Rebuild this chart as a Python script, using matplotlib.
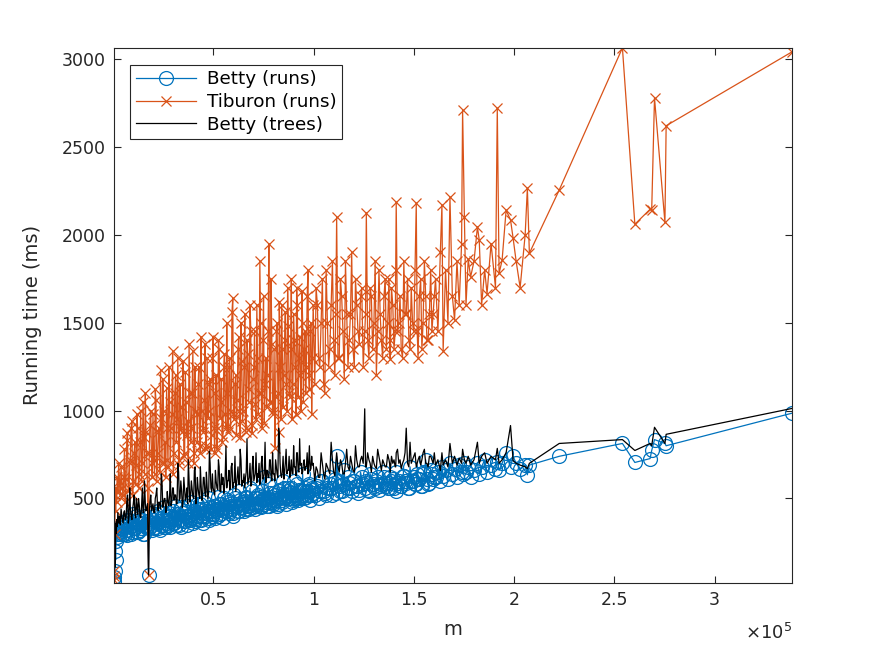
import numpy as np
import matplotlib
matplotlib.use("Agg")
import matplotlib.pyplot as plt
from matplotlib.ticker import FuncFormatter

# problem size m, in thousands, first pass of points
m_k_a = [
    0.35, 0.5, 0.7, 0.9, 1.1, 1.3, 1.5, 1.8, 2.1, 2.4, 2.8, 3.2, 3.6, 4.0, 4.5,
    5.0, 5.7, 6.5, 7.2, 8.0, 8.6, 9.4, 10.1, 10.9, 11.6,
    12.3, 13.1, 13.8, 14.6, 15.3, 16.1, 16.7, 17.7, 18.4, 19.2,
    19.9, 20.7, 21.4, 22.2, 22.9, 23.7, 24.4, 25.2, 25.9, 26.7,
    27.4, 28.2, 28.9, 29.7, 30.4, 31.2, 31.9, 32.7, 33.4, 34.2,
    34.9, 35.7, 36.4, 37.2, 37.9, 38.7, 39.4, 40.2, 40.9, 41.7,
    42.4, 43.2, 43.9, 44.7, 45.4, 46.2, 46.9, 47.7, 48.4, 49.2,
    49.9, 50.7, 51.4, 52.2, 52.9, 53.7, 54.4, 55.2, 55.9, 56.7,
    57.4, 58.2, 58.9, 59.7, 60.4, 61.2, 61.9, 62.7, 63.4, 64.2,
    64.9, 65.7, 66.4, 67.2, 67.9, 68.7, 69.4, 70.2, 70.9, 71.7,
    72.4, 73.2, 73.9, 74.7, 75.4, 76.2, 76.9, 77.7, 78.4, 79.2,
    79.9, 80.7, 81.4, 82.2, 82.9, 83.7, 84.4, 85.2, 85.9, 86.7,
    87.4, 88.2, 88.9, 89.7, 90.4, 91.2, 91.9, 92.7, 93.4, 94.2,
    94.9, 95.7, 96.4, 97.2, 97.9, 98.7, 99.4,
    100.6, 101.9, 103.1, 104.4, 105.6, 106.9, 108.1, 109.4, 110.6, 111.5,
    112.8, 114.0, 115.3, 116.5, 117.8, 119.0, 120.3, 121.5, 122.8, 124.0,
    125.5, 126.3, 127.6, 128.8, 130.1, 131.3, 132.6, 133.8, 135.1, 136.3,
    137.6, 138.2, 139.5, 140.7, 141.2, 142.5, 143.7, 145.0, 146.2, 147.5,
    148.7, 150.0, 151.2, 152.1, 153.4, 154.6, 155.9, 157.1, 158.4, 159.6,
    160.8, 162.0, 163.2, 164.0, 164.6, 165.8, 167.0, 168.0, 169.2, 170.3,
    171.5, 172.6, 173.8, 174.3, 175.2, 176.0, 177.1, 178.3, 180.0, 181.7,
    182.6, 183.8, 185.3, 186.5, 188.5, 190.7, 191.6, 192.5, 194.0, 196.0,
    198.2, 199.5, 201.0, 203.0, 205.5, 206.6, 207.6,
    222.5, 254.0, 260.2, 267.8, 268.6, 270.0, 275.2, 275.8, 338.5,
]

betty_runs_a = [
    22, 30, 55, 90, 200, 150, 260, 300, 280, 320, 310, 340, 300, 330, 350,
    300, 360, 320, 290, 380, 340, 310, 350, 330, 400,
    310, 360, 330, 380, 300, 350, 340, 65, 360, 320,
    380, 340, 410, 330, 370, 350, 420, 340, 380, 360,
    350, 400, 370, 430, 360, 390, 410, 350, 440, 380,
    420, 370, 400, 460, 380, 410, 390, 430, 370, 470,
    400, 440, 380, 420, 480, 400, 430, 390, 450, 420,
    410, 460, 430, 400, 470, 440, 420, 500, 430, 450,
    480, 430, 460, 420, 520, 450, 470, 430, 490, 450,
    470, 440, 510, 460, 480, 450, 540, 470, 440, 500,
    470, 510, 460, 490, 620, 480, 500, 460, 530, 490,
    480, 520, 500, 470, 540, 510, 490, 560, 500, 520,
    560, 500, 530, 490, 600, 520, 510, 550, 500, 540,
    520, 560, 510, 540, 580, 520, 550,
    520, 570, 540, 600, 530, 560, 580, 520, 610, 740,
    570, 540, 660, 560, 590, 540, 600, 570, 550, 620,
    560, 590, 540, 610, 570, 600, 550, 580, 620, 570,
    590, 560, 610, 580, 540, 600, 570, 630, 590, 560,
    600, 620, 580, 610, 570, 640, 720, 580, 660, 610,
    620, 650, 600, 680, 630, 660, 610, 700, 640, 670,
    620, 690, 650, 640, 700, 650, 680, 620, 660, 700,
    640, 680, 720, 650, 690, 670, 710, 660, 700, 760,
    680, 740, 700, 670, 690, 635, 690,
    740, 813, 705, 727, 773, 835, 813, 800, 985,
]

tiburon_runs_a = [
    35, 60, 90, 300, 520, 430, 560, 480, 620, 540, 700, 600, 520, 680, 560,
    520, 780, 610, 870, 560, 720, 940, 600, 820, 690,
    900, 640, 1000, 700, 850, 1100, 760, 65, 920, 700,
    980, 640, 1060, 760, 900, 1230, 700, 1000, 820, 1130,
    680, 1050, 900, 1340, 760, 1200, 950, 690, 1150, 880,
    1280, 760, 1050, 940, 1380, 820, 1100, 700, 1250, 980,
    1150, 800, 1420, 900, 1060, 780, 1300, 1000, 1180, 860,
    1420, 760, 1200, 900, 1350, 1050, 820, 1250, 980, 1500,
    880, 1300, 1000, 1640, 950, 1200, 1060, 1420, 850, 1280,
    1000, 1550, 900, 1320, 1120, 1450, 870, 1250, 1040, 1600,
    980, 1850, 1100, 1400, 930, 1300, 1200, 1950, 1050, 1380,
    1000, 790, 1450, 1100, 1620, 950, 1350, 1200, 1560, 1000,
    1480, 1080, 1750, 1150, 1400, 980, 1600, 1300, 1200, 1680,
    1050, 1450, 1250, 1800, 1120, 1500, 1300,
    1150, 1600, 1250, 1750, 1100, 1500, 1350, 1850, 1200, 2100,
    1300, 1650, 1180, 1550, 1400, 1900, 1250, 1600, 1380, 1700,
    1450, 2125, 1300, 1650, 1500, 1200, 1800, 1400, 1650, 1350,
    1750, 1295, 1600, 1450, 2185, 1500, 1350, 1850, 1550, 1400,
    1700, 1450, 2180, 1300, 1750, 1500, 1650, 1400, 1800, 1550,
    1750, 1450, 1900, 2170, 1340, 1800, 1500, 2215, 1650, 1515,
    1850, 1600, 1950, 2710, 2100, 1600, 1860, 1760, 1850, 2045,
    1970, 1600, 1800, 1665, 1950, 1700, 2720, 1780, 1855, 2140,
    2085, 1980, 1850, 1700, 2000, 2265, 1895,
    2255, 3063, 2060, 2145, 2140, 2778, 2070, 2620, 3040,
]

betty_trees_a = [
    28, 45, 70, 320, 110, 360, 300, 380, 340, 420, 360, 400, 350, 440, 390,
    360, 430, 390, 520, 400, 450, 380, 470, 420, 500,
    410, 460, 390, 560, 420, 470, 440, 65, 480, 430,
    470, 420, 520, 450, 480, 440, 600, 470, 500, 450,
    480, 520, 460, 560, 490, 520, 470, 650, 500, 540,
    480, 550, 510, 470, 600, 520, 560, 500, 680, 520,
    560, 500, 580, 530, 620, 510, 570, 540, 700, 540,
    560, 520, 600, 550, 680, 540, 580, 530, 620, 560,
    600, 550, 680, 560, 590, 540, 620, 580, 780, 570,
    590, 560, 650, 580, 620, 570, 680, 600, 640, 590,
    620, 580, 700, 610, 640, 590, 660, 620, 720, 600,
    640, 600, 680, 620, 870, 630, 650, 610, 700, 640,
    660, 620, 720, 640, 680, 630, 760, 650, 690, 640,
    700, 660, 680, 640, 800, 670, 690,
    600, 660, 620, 700, 610, 680, 640, 720, 630, 760,
    650, 700, 640, 780, 660, 700, 650, 720, 680, 740,
    1010, 680, 720, 650, 700, 670, 740, 660, 700, 680,
    720, 650, 700, 680, 760, 700, 670, 720, 900, 680,
    700, 740, 680, 720, 690, 760, 700, 680, 740, 700,
    690, 720, 660, 760, 690, 720, 680, 813, 700, 740,
    690, 730, 700, 780, 720, 700, 740, 690, 720, 820,
    700, 740, 760, 700, 740, 720, 785, 700, 720, 760,
    915, 715, 700, 690, 680, 670, 700,
    813, 835, 773, 813, 800, 905, 813, 865, 1012,
]

# second pass of points, lying between the first ones in the dense part
m_k_b = [
    5.35, 6.1, 6.85, 7.6, 8.3, 9.0, 9.75, 10.5, 11.25, 11.95,
    12.7, 13.45, 14.2, 14.95, 15.7, 16.4, 17.2, 18.05, 18.8, 19.55,
    20.3, 21.05, 21.8, 22.55, 23.3, 24.05, 24.8, 25.55, 26.3, 27.05,
    27.8, 28.55, 29.3, 30.05, 30.8, 31.55, 32.3, 33.05, 33.8, 34.55,
    35.3, 36.05, 36.8, 37.55, 38.3, 39.05, 39.8, 40.55, 41.3, 42.05,
    42.8, 43.55, 44.3, 45.05, 45.8, 46.55, 47.3, 48.05, 48.8, 49.55,
    50.3, 51.05, 51.8, 52.55, 53.3, 54.05, 54.8, 55.55, 56.3, 57.05,
    57.8, 58.55, 59.3, 60.05, 60.8, 61.55, 62.3, 63.05, 63.8, 64.55,
    65.3, 66.05, 66.8, 67.55, 68.3, 69.05, 69.8, 70.55, 71.3, 72.05,
    72.8, 73.55, 74.3, 75.05, 75.8, 76.55, 77.3, 78.05, 78.8, 79.55,
    80.3, 81.05, 81.8, 82.55, 83.3, 84.05, 84.8, 85.55, 86.3, 87.05,
    87.8, 88.55, 89.3, 90.05, 90.8, 91.55, 92.3, 93.05, 93.8, 94.55,
    95.3, 96.05, 96.8, 97.55, 98.3, 99.05, 99.8,
    101.25, 102.5, 103.75, 105.0, 106.25, 107.5, 108.75, 110.0, 111.05, 112.15,
    113.4, 114.65, 115.9, 117.15, 118.4, 119.65, 120.9, 122.15, 123.4, 124.75,
    125.9, 126.95, 128.2, 129.45, 130.7, 131.95, 133.2, 134.45, 135.7, 136.95,
    137.9, 138.85, 140.1, 140.95, 141.85, 143.1, 144.35, 145.6, 146.85, 148.1,
    149.35, 150.6, 151.65, 152.75, 154.0, 155.25, 156.5, 157.75, 159.0, 160.2,
]

betty_runs_b = [
    340, 300, 380, 320, 360, 300, 410, 330, 370, 310,
    390, 320, 360, 300, 400, 340, 370, 330, 420, 350,
    330, 400, 360, 430, 320, 390, 350, 450, 340, 380,
    420, 340, 390, 360, 460, 350, 410, 380, 340, 450,
    370, 430, 350, 400, 380, 480, 360, 420, 390, 440,
    380, 470, 400, 360, 440, 420, 500, 380, 430, 400,
    460, 390, 440, 510, 410, 470, 390, 450, 430, 490,
    420, 470, 440, 400, 500, 460, 430, 540, 450, 480,
    430, 500, 460, 440, 560, 470, 450, 500, 460, 520,
    480, 450, 540, 470, 500, 460, 580, 480, 510, 470,
    530, 490, 460, 550, 500, 480, 600, 510, 470, 540,
    500, 560, 480, 520, 500, 580, 490, 540, 510, 640,
    500, 540, 520, 570, 490, 560, 530,
    560, 500, 600, 540, 520, 620, 560, 590, 530, 600,
    540, 580, 520, 620, 560, 600, 570, 530, 650, 580,
    600, 550, 640, 580, 560, 620, 570, 650, 590, 560,
    620, 600, 560, 650, 590, 570, 630, 600, 560, 680,
    600, 580, 640, 610, 570, 650, 610, 590, 640, 620,
]

tiburon_runs_b = [
    620, 480, 830, 540, 700, 900, 520, 760, 580, 980,
    560, 820, 600, 1050, 640, 880, 560, 760, 1000, 620,
    720, 1120, 600, 880, 650, 960, 1180, 700, 620, 900,
    1250, 700, 980, 640, 1100, 820, 1300, 720, 900, 1020,
    740, 1220, 860, 700, 1100, 900, 1340, 760, 1000, 820,
    1250, 760, 1000, 880, 1380, 800, 960, 1150, 780, 1300,
    900, 1100, 780, 1400, 960, 1180, 850, 1320, 900, 1100,
    1250, 900, 1560, 980, 1150, 860, 1350, 1000, 1500, 940,
    1250, 880, 1400, 1050, 1600, 920, 1180, 1450, 950, 1300,
    1100, 1500, 900, 1650, 1150, 1020, 1450, 1050, 1750, 980,
    1350, 1080, 1500, 880, 1250, 1600, 1020, 1400, 1150, 1700,
    1100, 1350, 950, 1550, 1250, 1700, 1080, 1420, 1000, 1500,
    1350, 1100, 1650, 1200, 1450, 980, 1600,
    1700, 1300, 1500, 1150, 1800, 1250, 1600, 1400, 1550, 1300,
    1750, 1450, 1850, 1250, 1550, 1350, 1750, 1450, 1650, 1250,
    1550, 1400, 1700, 1350, 1850, 1450, 1550, 1300, 1750, 1500,
    1400, 1700, 1350, 1800, 1450, 1650, 1300, 1550, 1750, 1350,
    1500, 1800, 1450, 1650, 1350, 1850, 1400, 1550, 1450, 1650,
]

betty_trees_b = [
    420, 380, 480, 360, 560, 400, 440, 520, 390, 460,
    500, 400, 450, 420, 600, 430, 470, 410, 520, 450,
    420, 500, 560, 430, 470, 640, 450, 500, 420, 540,
    460, 640, 480, 560, 520, 470, 700, 490, 600, 450,
    620, 490, 560, 720, 480, 600, 510, 660, 470, 620,
    520, 680, 490, 620, 530, 650, 500, 770, 560, 640,
    540, 660, 560, 720, 540, 640, 620, 560, 800, 600,
    660, 560, 700, 590, 740, 580, 680, 580, 720, 600,
    640, 620, 840, 600, 700, 580, 740, 620, 760, 640,
    700, 600, 740, 620, 820, 660, 620, 720, 630, 760,
    640, 720, 640, 900, 700, 620, 740, 650, 780, 660,
    740, 660, 640, 800, 680, 760, 660, 840, 700, 650,
    720, 680, 760, 700, 660, 740, 700,
    680, 620, 760, 640, 700, 660, 820, 650, 700, 680,
    720, 640, 700, 680, 740, 660, 800, 680, 720, 700,
    680, 760, 700, 740, 680, 780, 700, 720, 680, 750,
    700, 740, 720, 680, 780, 720, 700, 760, 700, 820,
    720, 760, 700, 740, 720, 780, 700, 740, 720, 760,
]

# merge both passes and keep them in order of m, as the runs were logged
m_all = np.array(m_k_a + m_k_b) * 1000
order = np.argsort(m_all, kind="stable")
m = m_all[order]
betty_runs = np.array(betty_runs_a + betty_runs_b)[order]
tiburon_runs = np.array(tiburon_runs_a + tiburon_runs_b)[order]
betty_trees = np.array(betty_trees_a + betty_trees_b)[order]

blue = (0, 0.447, 0.741)
orange = (0.85, 0.325, 0.098)
axis_grey = (0.15, 0.15, 0.15)

fig = plt.figure(figsize=(8.75, 6.56), dpi=100)
ax = fig.add_axes([0.13, 0.112, 0.775, 0.815])

ax.plot(m, betty_runs, color=blue, marker="o", markerfacecolor="none",
        markersize=10, markeredgewidth=0.9, linewidth=0.9, label="Betty (runs)")
ax.plot(m, tiburon_runs, color=orange, marker="x", markersize=7.5,
        markeredgewidth=0.9, linewidth=0.9, label="Tiburon (runs)")
ax.plot(m, betty_trees, color="black", linewidth=0.9, label="Betty (trees)")

y_min = min(betty_runs.min(), tiburon_runs.min(), betty_trees.min())
y_max = max(betty_runs.max(), tiburon_runs.max(), betty_trees.max())
ax.set_xlim(m.min(), m.max())
ax.set_ylim(y_min, y_max)

ax.set_xticks([50000, 100000, 150000, 200000, 250000, 300000])
ax.set_yticks([500, 1000, 1500, 2000, 2500, 3000])
ax.xaxis.set_major_formatter(FuncFormatter(lambda v, p: f"{v / 1e5:g}"))

ax.tick_params(direction="in", length=5, width=0.8, top=True, right=True,
               labelsize=12.5, colors=axis_grey, pad=6)
for s in ax.spines.values():
    s.set_color(axis_grey)
    s.set_linewidth(0.8)

ax.set_xlabel("m", fontsize=14, color=axis_grey, labelpad=8)
ax.set_ylabel("Running time (ms)", fontsize=14, color=axis_grey, labelpad=14)
ax.text(1.0, -0.075, r"$\times10^{5}$", transform=ax.transAxes, ha="right",
        va="top", fontsize=13, color=axis_grey)

leg = ax.legend(loc="upper left", bbox_to_anchor=(0.024, 0.968),
                borderaxespad=0, fancybox=False, framealpha=1,
                edgecolor=axis_grey, fontsize=13.2, handlelength=3.3,
                borderpad=0.3, labelspacing=0.25, handletextpad=0.6)
leg.get_frame().set_linewidth(0.8)

fig.savefig("out.png", dpi=100)
